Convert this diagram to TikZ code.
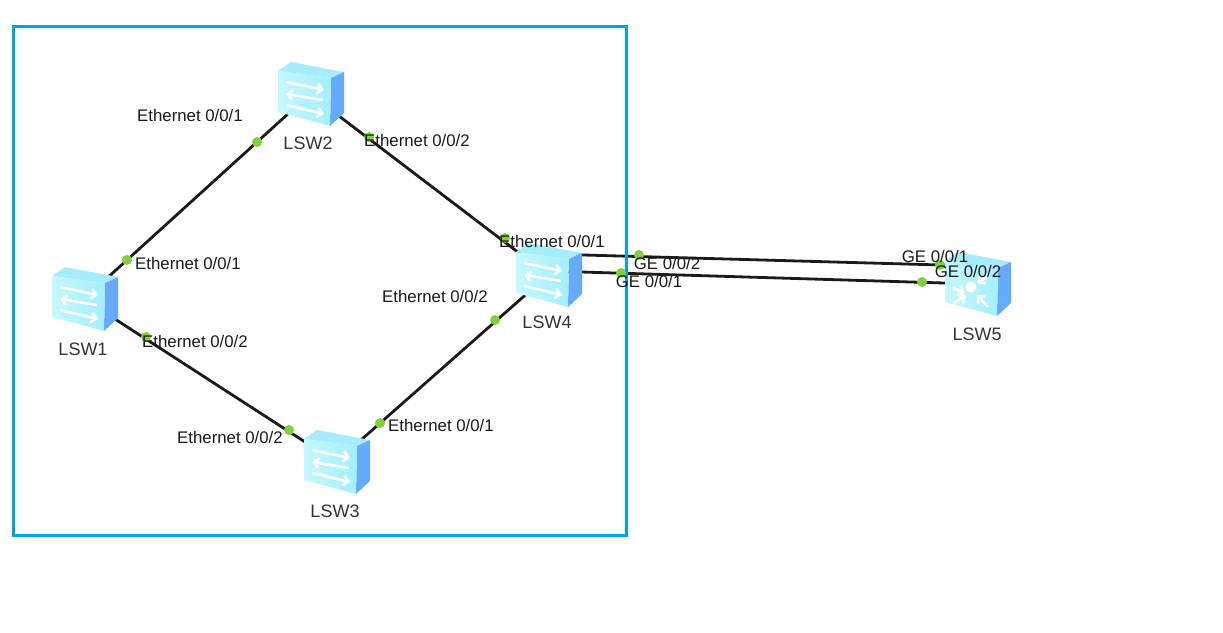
\documentclass[tikz,border=0pt]{standalone}
\usepackage{fontspec}
\setmainfont{Liberation Sans}
\usetikzlibrary{arrows.meta}
\definecolor{boxblue}{HTML}{00A2E8}
\definecolor{dotgreen}{HTML}{7FD13B}
\definecolor{sideblue}{HTML}{66AAFF}
\definecolor{topcyan}{HTML}{A6ECFF}
\definecolor{frontcyan}{HTML}{C4F8FF}
\definecolor{frontdark}{HTML}{A4EEFC}
\definecolor{linkgray}{HTML}{1A1A1A}
\tikzset{
	swnode/.style={minimum size=44pt,inner sep=0pt},
	link/.style={draw=linkgray,line width=2.8pt},
	portdot/.style={circle,fill=dotgreen,minimum size=10pt,inner sep=0pt},
	portlabel/.style={inner sep=0pt,font=\fontsize{16.8}{18}\selectfont,text=black!90},
	swlabel/.style={inner sep=0pt,font=\fontsize{18}{20}\selectfont,text=black!80},
	whitearrow/.style={white,line width=2.6pt,-{Straight Barb[length=5pt,width=10pt]}},
	pics/switchbody/.style={code={
		\fill[topcyan] (-32,-23) -- (-19,-32) -- (34,-22) -- (21,-16) -- cycle;
		\fill[sideblue] (21,-16) -- (34,-22) -- (34,19) -- (20,32) -- cycle;
		\shade[left color=frontcyan,right color=frontdark] (-32,-23) -- (21,-16) -- (20,32) -- (-32,18) -- cycle;
	}},
	pics/switchicon/.style={code={
		\pic {switchbody};
		\draw[whitearrow] (-24,-12) -- (14,-4);
		\draw[whitearrow] (13,6) -- (-24,0);
		\draw[whitearrow] (-24,11) -- (14,20);
	}},
	pics/routericon/.style={code={
		\pic {switchbody};
		\fill[white] (-6,3) circle [radius=5.5];
		\draw[whitearrow] (-24,4) -- (-12,9);
		\draw[whitearrow] (13,-9) -- (0,-1);
		\draw[whitearrow] (-23,19) -- (-11,11);
		\draw[whitearrow] (11,23) -- (0,11);
	}},
}
\begin{document}
\begin{tikzpicture}[x=1pt,y=-1pt]
	\useasboundingbox (0,0) rectangle (1223,632);
	\node[swnode] (lsw1) at (84,299) {};
	\node[swnode] (lsw2) at (310,94) {};
	\node[swnode] (lsw3) at (336,462) {};
	\node[swnode] (lsw4) at (548,275) {};
	\node[swnode] (lsw5) at (977,284) {};
	% links
	\draw[link] (lsw1) -- (lsw2);
	\draw[link] (lsw2) -- (lsw4);
	\draw[link] (lsw1) -- (lsw3);
	\draw[link] (lsw3) -- (lsw4);
	\draw[link] ([yshift=21pt]lsw4.center) -- ([yshift=18pt]lsw5.center);
	\draw[link] ([yshift=4pt]lsw4.center) -- ([yshift=0pt]lsw5.center);
	\draw[boxblue,line width=3pt] (13,26) rectangle (626,535);
	% devices
	\pic at (lsw1) {switchicon};
	\pic at (lsw2) {switchicon};
	\pic at (lsw3) {switchicon};
	\pic at (lsw4) {switchicon};
	\pic at (lsw5) {routericon};
	% ports
	\node[portdot] (d1) at (127,260) {};
	\node[portdot] (d2) at (257,142) {};
	\node[portdot] (d3) at (369,137) {};
	\node[portdot] (d4) at (505,238) {};
	\node[portdot] (d5) at (146,337) {};
	\node[portdot] (d6) at (289,430) {};
	\node[portdot] (d7) at (380,423) {};
	\node[portdot] (d8) at (495,320) {};
	\node[portdot] (d9) at (639,255) {};
	\node[portdot] (d10) at (621,273) {};
	\node[portdot] (d11) at (940,265) {};
	\node[portdot] (d12) at (922,282) {};
	% names
	\node[swlabel] (n1) at (83,349) {LSW1};
	\node[swlabel] (n2) at (308,143) {LSW2};
	\node[swlabel] (n3) at (335,511) {LSW3};
	\node[swlabel] (n4) at (547,322) {LSW4};
	\node[swlabel] (n5) at (977,334) {LSW5};
	% port labels
	\node[portlabel] (p1) at (190,115.5) {Ethernet 0/0/1};
	\node[portlabel] (p2) at (417,140.5) {Ethernet 0/0/2};
	\node[portlabel] (p3) at (188,263.5) {Ethernet 0/0/1};
	\node[portlabel] (p4) at (552,241.5) {Ethernet 0/0/1};
	\node[portlabel] (p5) at (435,296.5) {Ethernet 0/0/2};
	\node[portlabel] (p6) at (195,341.5) {Ethernet 0/0/2};
	\node[portlabel] (p7) at (230,437.5) {Ethernet 0/0/2};
	\node[portlabel] (p8) at (441,425.5) {Ethernet 0/0/1};
	\node[portlabel] (p9) at (667,263.5) {GE 0/0/2};
	\node[portlabel] (p10) at (649,281.5) {GE 0/0/1};
	\node[portlabel] (p11) at (935,256.5) {GE 0/0/1};
	\node[portlabel] (p12) at (968,271.5) {GE 0/0/2};
\end{tikzpicture}
\end{document}
